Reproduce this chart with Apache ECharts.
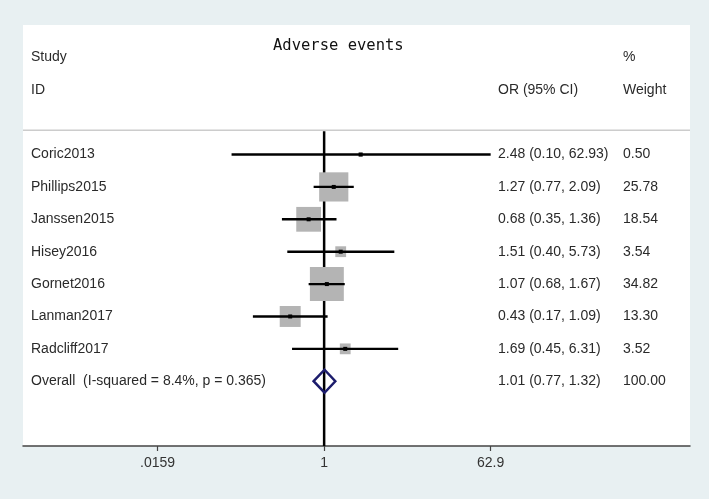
<!DOCTYPE html>
<html>
<head>
<meta charset="utf-8">
<script src="https://cdn.jsdelivr.net/npm/echarts@6/dist/echarts.min.js"></script>
<style>
  html, body { margin: 0; padding: 0; background: #e8f0f2; }
  #chart { width: 709px; height: 499px; }
</style>
</head>
<body>
<div id="chart"></div>
<script>
// ---- data ----
const chartTitle = 'Adverse events';
const studies = ['Coric2013', 'Phillips2015', 'Janssen2015', 'Hisey2016', 'Gornet2016', 'Lanman2017', 'Radcliff2017'];
const orValues = [2.48, 1.27, 0.68, 1.51, 1.07, 0.43, 1.69];
const ciLower = [0.10, 0.77, 0.35, 0.40, 0.68, 0.17, 0.45];
const ciUpper = [62.93, 2.09, 1.36, 5.73, 1.67, 1.09, 6.31];
const weights = [0.50, 25.78, 18.54, 3.54, 34.82, 13.30, 3.52];
const overallLabel = 'Overall  (I-squared = 8.4%, p = 0.365)';
const overallOR = [1.01];
const overallLower = [0.77];
const overallUpper = [1.32];
const overallWeight = [100.00];
const tickValues = [0.0159, 1, 62.9];
const tickLabels = ['.0159', '1', '62.9'];

// ---- layout ----
const ln = Math.log;
const X_MIN = -7.49, X_MAX = 9.10;
const TEXT_FONT = '14px "Liberation Sans", Arial, sans-serif';
const TEXT_COLOR = '#2a2a2a';
const COL_STUDY = 31, COL_OR = 498, COL_W = 623;

function fmt(v) { return v.toFixed(2); }
function ciText(e, l, h) { return fmt(e) + ' (' + fmt(l) + ', ' + fmt(h) + ')'; }

const studyData = studies.map((s, i) => [ln(orValues[i]), ln(ciLower[i]), ln(ciUpper[i]), i, weights[i]]);
const overallRow = studies.length;
const overallData = [[ln(overallOR[0]), ln(overallLower[0]), ln(overallUpper[0]), overallRow, overallWeight[0]]];

function txt(x, y, s, align) {
  return { type: 'text', style: { text: s, x: x, y: y, font: TEXT_FONT, fill: TEXT_COLOR, align: align || 'left', verticalAlign: 'middle' } };
}

const chart = echarts.init(document.getElementById('chart'), null, { renderer: 'canvas' });
chart.setOption({
  backgroundColor: '#e8f0f2',
  animation: false,
  title: {
    text: chartTitle, left: 273, top: 38, padding: 0,
    textStyle: { fontFamily: '"DejaVu Sans Mono", monospace', fontSize: 15.5, fontWeight: 'normal', color: '#111' }
  },
  grid: { left: 23, right: 19, top: 25, bottom: 53, show: true, backgroundColor: '#ffffff', borderWidth: 0 },
  xAxis: {
    type: 'value', min: X_MIN, max: X_MAX, position: 'bottom',
    axisLine: { show: true, onZero: false, lineStyle: { color: '#444', width: 1.5 } },
    axisTick: { show: true, length: 5, customValues: tickValues.map(ln), lineStyle: { color: '#444', width: 1.2 } },
    axisLabel: {
      customValues: tickValues.map(ln), margin: 10,
      fontFamily: '"Liberation Sans", Arial, sans-serif', fontSize: 14, color: '#333',
      formatter: function (v) {
        for (let j = 0; j < tickValues.length; j++) if (Math.abs(ln(tickValues[j]) - v) < 1e-6) return tickLabels[j];
        return '';
      }
    },
    splitLine: { show: false }
  },
  yAxis: { type: 'value', min: -4, max: 9, inverse: true, show: false },
  series: [
    {
      // frame: header texts, separator, null line
      type: 'custom', silent: true, z: 1,
      data: [[0, -0.75]],
      renderItem: function (params, api) {
        const sepL = api.coord([X_MIN, -0.75]);
        const sepR = api.coord([X_MAX, -0.75]);
        const nTop = api.coord([0, -0.75]);
        const nBot = api.coord([0, 9]);
        const r3 = api.coord([0, -3])[1], r2 = api.coord([0, -2])[1];
        return {
          type: 'group', children: [
            { type: 'line', shape: { x1: sepL[0], y1: sepL[1], x2: sepR[0], y2: sepR[1] }, style: { stroke: '#cccccc', lineWidth: 1.5 } },
            { type: 'line', shape: { x1: nTop[0], y1: nTop[1] + 1, x2: nBot[0], y2: nBot[1] }, style: { stroke: '#000', lineWidth: 2.5 } },
            txt(COL_STUDY, r3, 'Study'),
            txt(COL_STUDY, r2, 'ID'),
            txt(COL_W, r3, '%'),
            txt(COL_W, r2, 'Weight'),
            txt(COL_OR, r2, 'OR (95% CI)')
          ]
        };
      }
    },
    {
      type: 'custom', silent: true, z: 2,
      data: studyData,
      renderItem: function (params, api) {
        const e = api.value(0), l = api.value(1), h = api.value(2), row = api.value(3), w = api.value(4);
        const pE = api.coord([e, row]), pL = api.coord([l, row]), pH = api.coord([h, row]);
        const side = 5.75 * Math.sqrt(w);
        const i = params.dataIndex;
        return {
          type: 'group', children: [
            { type: 'rect', shape: { x: pE[0] - side / 2, y: pE[1] - side / 2, width: side, height: side }, style: { fill: '#b4b4b4' } },
            { type: 'line', shape: { x1: pL[0], y1: pL[1], x2: pH[0], y2: pH[1] }, style: { stroke: '#000', lineWidth: 2.4 } },
            { type: 'rect', shape: { x: pE[0] - 2, y: pE[1] - 2, width: 4, height: 4 }, style: { fill: '#000' } },
            txt(COL_STUDY, pE[1], studies[i]),
            txt(COL_OR, pE[1], ciText(orValues[i], ciLower[i], ciUpper[i])),
            txt(COL_W, pE[1], fmt(weights[i]))
          ]
        };
      }
    },
    {
      type: 'custom', silent: true, z: 3,
      data: overallData,
      renderItem: function (params, api) {
        const e = api.value(0), l = api.value(1), h = api.value(2), row = api.value(3);
        const pE = api.coord([e, row]), pL = api.coord([l, row]), pH = api.coord([h, row]);
        const hh = 11.5;
        return {
          type: 'group', children: [
            { type: 'polygon', shape: { points: [[pL[0], pL[1]], [pE[0], pE[1] - hh], [pH[0], pH[1]], [pE[0], pE[1] + hh]] },
              style: { fill: 'none', stroke: '#1c1c6c', lineWidth: 2.5 } },
            txt(COL_STUDY, pE[1], overallLabel),
            txt(COL_OR, pE[1], ciText(overallOR[0], overallLower[0], overallUpper[0])),
            txt(COL_W, pE[1], fmt(overallWeight[0]))
          ]
        };
      }
    }
  ]
});
</script>
</body>
</html>
